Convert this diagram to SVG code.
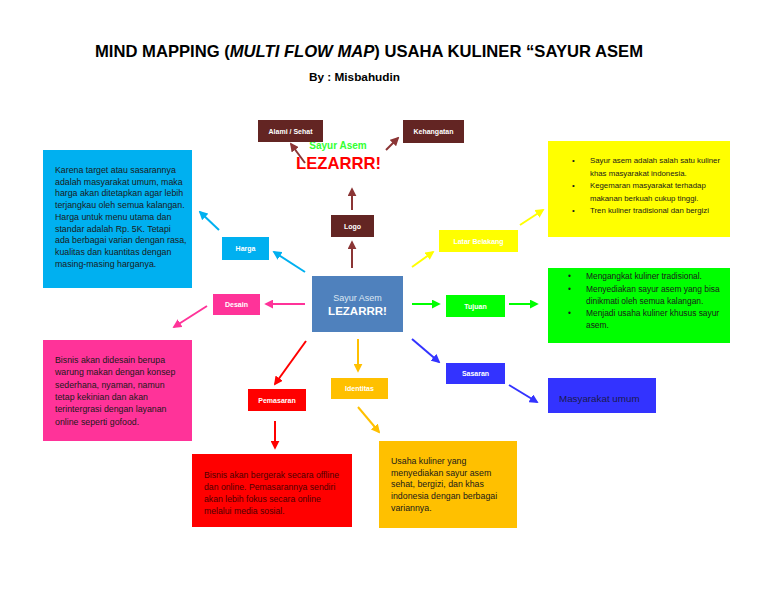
<svg xmlns="http://www.w3.org/2000/svg" width="768" height="594" viewBox="0 0 768 594">
<style>
.t{font-family:"Liberation Sans",Arial,sans-serif}
.title{font-family:"Liberation Sans",Arial,sans-serif;font-weight:bold;font-size:16.5px;fill:#000}
.lbl{font-family:"Liberation Sans",Arial,sans-serif;font-weight:bold;font-size:7px;fill:#fff;text-anchor:middle}
.body{font-family:"Liberation Sans",Arial,sans-serif;fill:#1a1a1a}
.c line{stroke-width:2}
</style>
<defs>
<marker id="aM" viewBox="0 0 10 10" refX="8" refY="5" markerWidth="4.5" markerHeight="4.5" orient="auto"><path d="M0,0L10,5L0,10z" fill="#8B3535"/></marker>
<marker id="aC" viewBox="0 0 10 10" refX="8" refY="5" markerWidth="4.5" markerHeight="4.5" orient="auto"><path d="M0,0L10,5L0,10z" fill="#00B0F0"/></marker>
<marker id="aY" viewBox="0 0 10 10" refX="8" refY="5" markerWidth="4.5" markerHeight="4.5" orient="auto"><path d="M0,0L10,5L0,10z" fill="#FFFF00"/></marker>
<marker id="aG" viewBox="0 0 10 10" refX="8" refY="5" markerWidth="4.5" markerHeight="4.5" orient="auto"><path d="M0,0L10,5L0,10z" fill="#00FF00"/></marker>
<marker id="aB" viewBox="0 0 10 10" refX="8" refY="5" markerWidth="4.5" markerHeight="4.5" orient="auto"><path d="M0,0L10,5L0,10z" fill="#3333FF"/></marker>
<marker id="aP" viewBox="0 0 10 10" refX="8" refY="5" markerWidth="4.5" markerHeight="4.5" orient="auto"><path d="M0,0L10,5L0,10z" fill="#FF3399"/></marker>
<marker id="aR" viewBox="0 0 10 10" refX="8" refY="5" markerWidth="4.5" markerHeight="4.5" orient="auto"><path d="M0,0L10,5L0,10z" fill="#FF0000"/></marker>
<marker id="aO" viewBox="0 0 10 10" refX="8" refY="5" markerWidth="4.5" markerHeight="4.5" orient="auto"><path d="M0,0L10,5L0,10z" fill="#FFC000"/></marker>
</defs>
<rect width="768" height="594" fill="#fff"/>

<g id="title">
<text class="title" x="95" y="57" textLength="548" lengthAdjust="spacingAndGlyphs">MIND MAPPING (<tspan font-style="italic">MULTI FLOW MAP</tspan>) USAHA KULINER “SAYUR ASEM</text>
<text class="t" x="309" y="81" font-size="10.5" font-weight="bold" textLength="91" lengthAdjust="spacingAndGlyphs">By : Misbahudin</text>
</g>

<g id="connectors" class="c">
<line x1="305" y1="272" x2="274" y2="252" stroke="#00B0F0" marker-end="url(#aC)"/>
<line x1="219" y1="230" x2="200" y2="212" stroke="#00B0F0" marker-end="url(#aC)"/>
<line x1="352" y1="268" x2="352" y2="242" stroke="#8B3535" marker-end="url(#aM)"/>
<line x1="352" y1="210" x2="352" y2="189" stroke="#8B3535" marker-end="url(#aM)"/>
<line x1="305" y1="163" x2="291" y2="144" stroke="#8B3535" marker-end="url(#aM)"/>
<line x1="386" y1="150" x2="398" y2="138" stroke="#8B3535" marker-end="url(#aM)"/>
<line x1="412" y1="267" x2="433" y2="252" stroke="#FFFF00" marker-end="url(#aY)"/>
<line x1="520" y1="225" x2="543" y2="210" stroke="#FFFF00" marker-end="url(#aY)"/>
<line x1="412" y1="304" x2="439" y2="304" stroke="#00FF00" marker-end="url(#aG)"/>
<line x1="509" y1="304" x2="537" y2="304" stroke="#00FF00" marker-end="url(#aG)"/>
<line x1="412" y1="339" x2="439" y2="362" stroke="#3333FF" marker-end="url(#aB)"/>
<line x1="509" y1="385" x2="537" y2="402" stroke="#3333FF" marker-end="url(#aB)"/>
<line x1="305" y1="304" x2="266" y2="304" stroke="#FF3399" marker-end="url(#aP)"/>
<line x1="207" y1="306" x2="174" y2="327" stroke="#FF3399" marker-end="url(#aP)"/>
<line x1="306" y1="341" x2="275" y2="384" stroke="#FF0000" marker-end="url(#aR)"/>
<line x1="275" y1="421" x2="275" y2="448" stroke="#FF0000" marker-end="url(#aR)"/>
<line x1="358" y1="339" x2="358" y2="371" stroke="#FFC000" marker-end="url(#aO)"/>
<line x1="358" y1="407" x2="379" y2="432" stroke="#FFC000" marker-end="url(#aO)"/>
</g>

<g id="center">
<rect x="312" y="276" width="91" height="56" fill="#4F81BD"/>
<text class="t" x="357.5" y="301" font-size="9" fill="#DCE6F2" text-anchor="middle">Sayur Asem</text>
<text class="t" x="357.5" y="315" font-size="11.5" font-weight="bold" fill="#fff" text-anchor="middle">LEZARRR!</text>
</g>

<g id="logo">
<rect x="331" y="215" width="43" height="22" fill="#632523"/>
<text class="lbl" x="352.5" y="229">Logo</text>
</g>
<g id="logo-text">
<text class="t" x="338" y="149" font-size="10" font-weight="bold" fill="#33FF33" text-anchor="middle">Sayur Asem</text>
<text class="t" x="296" y="169" font-size="17" font-weight="bold" fill="#FF0000" textLength="85" lengthAdjust="spacingAndGlyphs">LEZARRR!</text>
</g>
<g id="alami">
<rect x="258" y="120" width="65" height="22" fill="#632523"/>
<text class="lbl" x="290.5" y="133.5">Alami / Sehat</text>
</g>
<g id="kehangatan">
<rect x="403" y="120" width="61" height="23" fill="#632523"/>
<text class="lbl" x="433.5" y="134">Kehangatan</text>
</g>

<g id="harga">
<rect x="222" y="237" width="47" height="23" fill="#00B0F0"/>
<text class="lbl" x="245.5" y="251">Harga</text>
</g>
<g id="harga-box">
<rect x="43" y="150" width="149" height="138" fill="#00B0F0"/>
<text class="body" font-size="8.8">
<tspan x="55" y="173">Karena target atau sasarannya</tspan>
<tspan x="55" y="184.7">adalah masyarakat umum, maka</tspan>
<tspan x="55" y="196.4">harga akan ditetapkan agar lebih</tspan>
<tspan x="55" y="208.1">terjangkau oleh semua kalangan.</tspan>
<tspan x="55" y="219.8">Harga untuk menu utama dan</tspan>
<tspan x="55" y="231.5">standar adalah Rp. 5K. Tetapi</tspan>
<tspan x="55" y="243.2">ada berbagai varian dengan rasa,</tspan>
<tspan x="55" y="254.9">kualitas dan kuantitas dengan</tspan>
<tspan x="55" y="266.6">masing-masing harganya.</tspan>
</text>
</g>

<g id="desain">
<rect x="213" y="294" width="47" height="21" fill="#FF3399"/>
<text class="lbl" x="236.5" y="307">Desain</text>
</g>
<g id="desain-box">
<rect x="43" y="340" width="149" height="101" fill="#FF3399"/>
<text class="body" font-size="8.8">
<tspan x="55" y="363">Bisnis akan didesain berupa</tspan>
<tspan x="55" y="375.3">warung makan dengan konsep</tspan>
<tspan x="55" y="387.6">sederhana, nyaman, namun</tspan>
<tspan x="55" y="399.9">tetap kekinian dan akan</tspan>
<tspan x="55" y="412.2">terintergrasi dengan layanan</tspan>
<tspan x="55" y="424.5">online seperti gofood.</tspan>
</text>
</g>

<g id="pemasaran">
<rect x="248" y="389" width="58" height="22" fill="#FF0000"/>
<text class="lbl" x="277" y="403">Pemasaran</text>
</g>
<g id="pemasaran-box">
<rect x="192" y="454" width="160" height="73" fill="#FF0000"/>
<text class="body" font-size="8.7" fill="#4d0000">
<tspan x="204" y="478" fill="#4d0000">Bisnis akan bergerak secara offline</tspan>
<tspan x="204" y="490" fill="#4d0000">dan online. Pemasarannya sendiri</tspan>
<tspan x="204" y="502" fill="#4d0000">akan lebih fokus secara online</tspan>
<tspan x="204" y="514" fill="#4d0000">melalui media sosial.</tspan>
</text>
</g>

<g id="identitas">
<rect x="331" y="378" width="57" height="21" fill="#FFC000"/>
<text class="lbl" x="359.5" y="391">Identitas</text>
</g>
<g id="identitas-box">
<rect x="379" y="441" width="138" height="87" fill="#FFC000"/>
<text class="body" font-size="8.8">
<tspan x="391" y="464">Usaha kuliner yang</tspan>
<tspan x="391" y="475.7">menyediakan sayur asem</tspan>
<tspan x="391" y="487.4">sehat, bergizi, dan khas</tspan>
<tspan x="391" y="499.1">indonesia dengan berbagai</tspan>
<tspan x="391" y="510.8">variannya.</tspan>
</text>
</g>

<g id="latar">
<rect x="439" y="230" width="79" height="22" fill="#FFFF00"/>
<text class="lbl" x="478.5" y="244">Latar Belakang</text>
</g>
<g id="latar-box">
<rect x="548" y="141" width="182" height="96" fill="#FFFF00"/>
<g class="body" font-size="7.8">
<text x="572" y="163">•</text>
<text x="590" y="163">Sayur asem adalah salah satu kuliner</text>
<text x="590" y="175.5">khas masyarakat indonesia.</text>
<text x="572" y="188">•</text>
<text x="590" y="188">Kegemaran masyarakat terhadap</text>
<text x="590" y="200.5">makanan berkuah cukup tinggi.</text>
<text x="572" y="213">•</text>
<text x="590" y="213">Tren kuliner tradisional dan bergizi</text>
</g>
</g>

<g id="tujuan">
<rect x="446" y="295" width="59" height="22" fill="#00FF00"/>
<text class="lbl" x="475.5" y="309">Tujuan</text>
</g>
<g id="tujuan-box">
<rect x="548" y="268" width="182" height="75" fill="#00FF00"/>
<g class="body" font-size="8.4">
<text x="568" y="279">•</text>
<text x="586" y="279">Mengangkat kuliner tradisional.</text>
<text x="568" y="292">•</text>
<text x="586" y="292">Menyediakan sayur asem yang bisa</text>
<text x="586" y="304">dinikmati oleh semua kalangan.</text>
<text x="568" y="316">•</text>
<text x="586" y="316">Menjadi usaha kuliner khusus sayur</text>
<text x="586" y="328">asem.</text>
</g>
</g>

<g id="sasaran">
<rect x="446" y="363" width="59" height="21" fill="#3333FF"/>
<text class="lbl" x="475.5" y="376">Sasaran</text>
</g>
<g id="sasaran-box">
<rect x="548" y="378" width="108" height="35" fill="#3333FF"/>
<text class="t" x="559" y="402" font-size="9.8" fill="#1a1a4d">Masyarakat umum</text>
</g>
</svg>
